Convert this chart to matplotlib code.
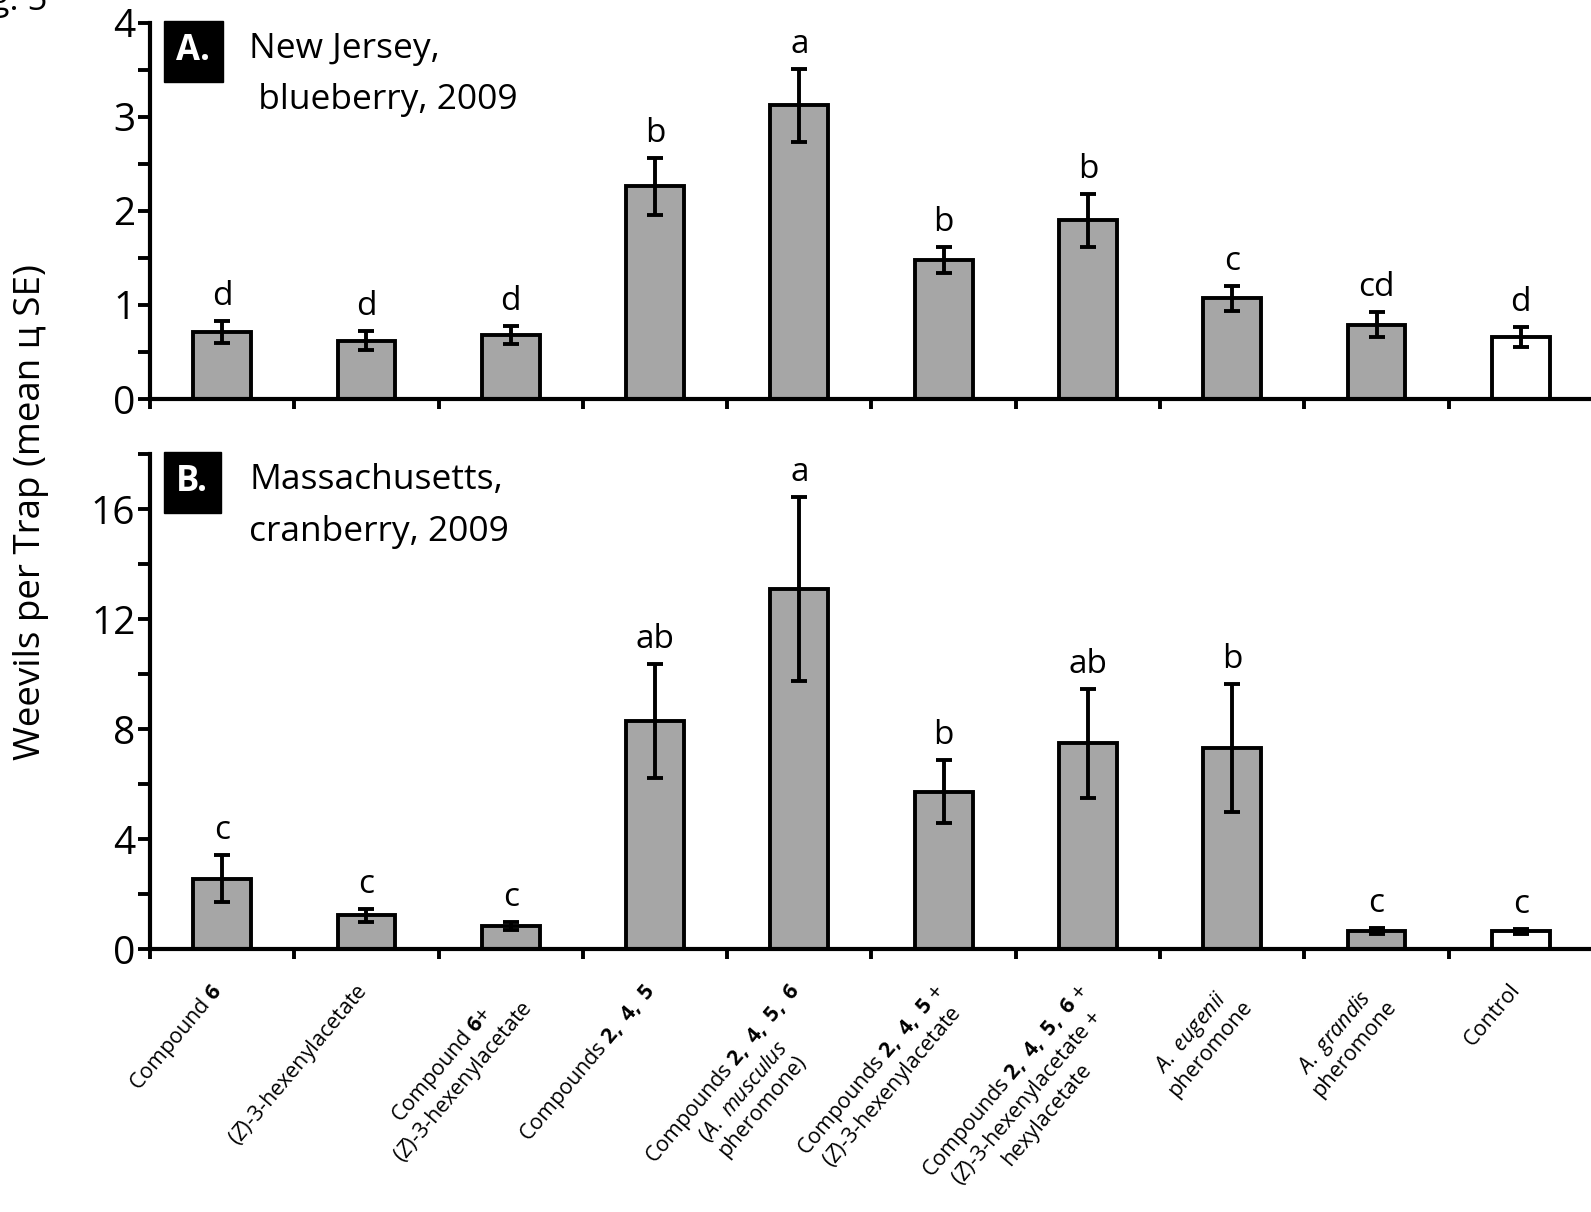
import matplotlib
matplotlib.use("Agg")
import matplotlib.pyplot as plt
from matplotlib.ticker import MultipleLocator, FixedLocator
import numpy as np

FONT = "Open Sans"
plt.rcParams['font.family'] = [FONT, 'DejaVu Sans']
plt.rcParams['mathtext.fontset'] = 'custom'
plt.rcParams['mathtext.rm'] = FONT
plt.rcParams['mathtext.it'] = FONT + ':italic'
plt.rcParams['mathtext.bf'] = FONT + ':bold'

# Treatments (x categories)
treatments = [
    r"Compound $\mathbf{6}$",
    r"($\mathit{Z}$)-3-hexenylacetate",
    "Compound $\\mathbf{6}$+\n($\\mathit{Z}$)-3-hexenylacetate",
    r"Compounds $\mathbf{2,\ 4,\ 5}$",
    "Compounds $\\mathbf{2,\\ 4,\\ 5,\\ 6}$\n($\\mathit{A.\\ musculus}$\npheromone)",
    "Compounds $\\mathbf{2,\\ 4,\\ 5}$ +\n($\\mathit{Z}$)-3-hexenylacetate",
    "Compounds $\\mathbf{2,\\ 4,\\ 5,\\ 6}$ +\n($\\mathit{Z}$)-3-hexenylacetate +\nhexylacetate",
    "$\\mathit{A.\\ eugenii}$\npheromone",
    "$\\mathit{A.\\ grandis}$\npheromone",
    "Control",
]

# Panel A: New Jersey, blueberry, 2009
nj_mean = [0.71, 0.62, 0.68, 2.26, 3.12, 1.48, 1.90, 1.07, 0.79, 0.66]
nj_se = [0.12, 0.10, 0.10, 0.30, 0.39, 0.14, 0.28, 0.13, 0.13, 0.11]
nj_letters = ["d", "d", "d", "b", "a", "b", "b", "c", "cd", "d"]

# Panel B: Massachusetts, cranberry, 2009
ma_mean = [2.56, 1.22, 0.85, 8.30, 13.10, 5.72, 7.48, 7.30, 0.64, 0.64]
ma_se = [0.86, 0.22, 0.15, 2.08, 3.35, 1.15, 1.98, 2.33, 0.11, 0.10]
ma_letters = ["c", "c", "c", "ab", "a", "b", "ab", "b", "c", "c"]

is_control = [False] * 9 + [True]

W, H = 1591, 1212
fig = plt.figure(figsize=(W / 100, H / 100), dpi=100)

left = 150 / W
width = 1443 / W
axA = fig.add_axes([left, 1 - 399 / H, width, (399 - 22.5) / H])
axB = fig.add_axes([left, 1 - 949 / H, width, (949 - 454) / H])

lw = 2.8
grey = "#a6a6a6"


def draw_panel(ax, means, ses, letters, ymax, major, minor):
    x = np.arange(len(means))
    colors = ["white" if c else grey for c in is_control]
    ax.bar(x, means, width=0.4, color=colors, edgecolor="black", linewidth=lw, zorder=2)
    ax.errorbar(x, means, yerr=ses, fmt="none", ecolor="black", elinewidth=lw,
                capsize=5.5, capthick=lw, zorder=3)
    for xi, m, s, lab in zip(x, means, ses, letters):
        ax.annotate(lab, (xi, m + s), xytext=(0, 11.5), textcoords="offset points",
                    ha="center", va="baseline", fontsize=24)
    ax.set_xlim(-0.5, len(means) - 0.5)
    ax.set_ylim(0, ymax)
    ax.yaxis.set_major_locator(MultipleLocator(major))
    ax.yaxis.set_minor_locator(MultipleLocator(minor))
    ax.xaxis.set_major_locator(FixedLocator(np.arange(-0.5, len(means), 1.0)))
    ax.set_xticklabels([])
    for s in ("top", "right"):
        ax.spines[s].set_visible(False)
    for s in ("left", "bottom"):
        ax.spines[s].set_linewidth(3.0)
    ax.tick_params(axis="y", which="both", direction="out", length=8.5, width=2.8,
                   labelsize=28, pad=2)
    ax.tick_params(axis="x", which="both", direction="out", length=7, width=2.8)
    ax.patch.set_alpha(0)


draw_panel(axA, nj_mean, nj_se, nj_letters, 4, 1, 0.5)
draw_panel(axB, ma_mean, ma_se, ma_letters, 18, 4, 2)


# Panel tags and site captions
def panel_tag(tag, x, y):
    fig.text(x / W, 1 - y / H, tag, color="white", fontsize=25, fontweight="bold",
             ha="left", va="center",
             bbox=dict(boxstyle="square,pad=0.36", fc="black", ec="black"))


panel_tag("A.", 176, 51)
panel_tag("B.", 176, 482)
fig.text(249 / W, 1 - 49 / H, "New Jersey,", fontsize=25.5, ha="left", va="center")
fig.text(249 / W, 1 - 100 / H, " blueberry, 2009", fontsize=25.5, ha="left", va="center")
fig.text(249 / W, 1 - 480 / H, "Massachusetts,", fontsize=25.5, ha="left", va="center")
fig.text(249 / W, 1 - 532 / H, "cranberry, 2009", fontsize=25.5, ha="left", va="center")

# Figure number (partly outside the canvas)
fig.text(47 / W, 1 - 10 / H, "Fig. 5", fontsize=25, ha="right", va="baseline")

# Shared y-axis label
fig.text(31 / W, 1 - 512 / H, "Weevils per Trap (mean ц SE)", rotation=90,
         fontsize=26.5, ha="center", va="center")

# Rotated treatment labels under panel B
for i, lab in enumerate(treatments):
    axB.annotate(lab, (i, 0), xycoords=("data", "axes fraction"),
                 xytext=(-9, -22), textcoords="offset points",
                 rotation=50, rotation_mode="anchor", ha="right", va="top",
                 multialignment="center", fontsize=15.5, linespacing=1.12)

fig.savefig("out.png", dpi=100)
